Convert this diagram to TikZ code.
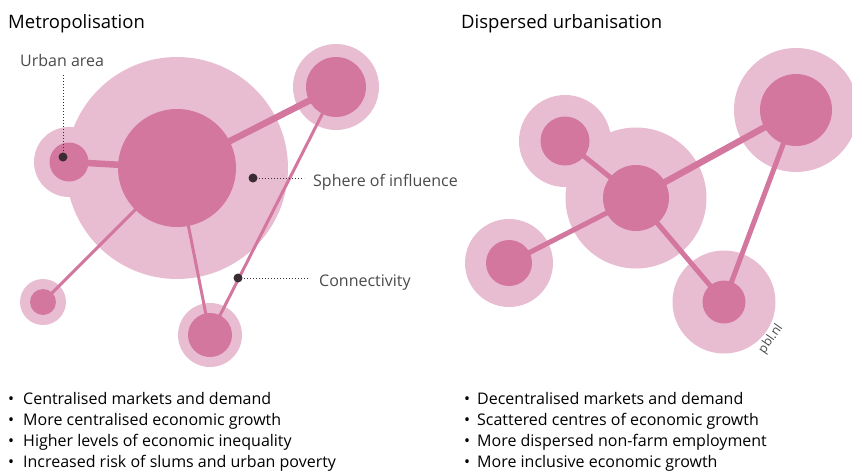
\documentclass[tikz,border=0pt]{standalone}
\usepackage{fontspec}
\setmainfont{Open Sans}
\definecolor{lightp}{HTML}{E9BDD1}
\definecolor{darkp}{HTML}{D3779E}
\definecolor{dotc}{HTML}{3B2B33}
\definecolor{labc}{HTML}{4A4A4A}
\begin{document}
\begin{tikzpicture}[x=1pt,y=-1pt,
  lightc/.style={circle,fill=lightp,inner sep=0pt,draw=none},
  darkc/.style={circle,fill=darkp,inner sep=0pt,draw=none},
  thick link/.style={draw=darkp,line width=6.5pt},
  thin link/.style={draw=darkp,line width=3pt},
  mid link/.style={draw=darkp,line width=5pt},
  marker/.style={circle,fill=dotc,inner sep=0pt,minimum size=9pt},
  leader/.style={draw=dotc,line width=0.9pt,dash pattern=on 1.3pt off 1.7pt},
  title/.style={anchor=base west,inner sep=0pt,font=\fontsize{18.5}{22}\selectfont,text=black},
  lab/.style={anchor=base west,inner sep=0pt,font=\fontsize{16}{19}\selectfont,text=labc},
  bul/.style={anchor=base west,inner sep=0pt,font=\fontsize{16}{19}\selectfont,text=black},
]
\useasboundingbox (0,0) rectangle (852,474);
% ---------------- Left panel ----------------
\node[title] (t1) at (8,28) {Metropolisation};
% spheres
\node[lightc,minimum size=222pt] (LbigS) at (177,168) {};
\node[lightc,minimum size=70pt] (LlS) at (69,162) {};
\node[lightc,minimum size=86pt] (LtrS) at (336,87) {};
\node[lightc,minimum size=46pt] (LblS) at (43,302) {};
\node[lightc,minimum size=64pt] (LbmS) at (210,335) {};
% urban areas
\coordinate (Lbig) at (177,168);
\coordinate (Ll) at (69,162);
\coordinate (Ltr) at (336,87);
\coordinate (Lbl) at (43,302);
\coordinate (Lbm) at (210,335);
% links
\draw[thick link] (Ll) -- (Lbig);
\draw[thick link] (Lbig) -- (Ltr);
\draw[thin link] (Lbig) -- (Lbl);
\draw[thin link] (Lbig) -- (Lbm);
\draw[thin link] (Ltr) -- (Lbm);
\node[darkc,minimum size=118pt] (LbigU) at (Lbig) {};
\node[darkc,minimum size=39pt] (LlU) at (Ll) {};
\node[darkc,minimum size=60pt] (LtrU) at (Ltr) {};
\node[darkc,minimum size=26pt] (LblU) at (Lbl) {};
\node[darkc,minimum size=44pt] (LbmU) at (Lbm) {};
% annotations
\node[lab] (ua) at (20,66) {Urban area};
\node[marker] (m1) at (63,157) {};
\coordinate (ua1) at (63,75);
\draw[leader] (ua1) -- (m1.center);
\node[lab] (soi) at (313,186) {Sphere of influence};
\node[marker] (m2) at (253,178) {};
\coordinate (soi1) at (304,178);
\draw[leader] (m2.center) -- (soi1);
\node[lab] (con) at (319,286) {Connectivity};
\node[marker] (m3) at (238,278) {};
\coordinate (con1) at (310,278);
\draw[leader] (m3.center) -- (con1);
% ---------------- Right panel ----------------
\node[title] (t2) at (461,28) {Dispersed urbanisation};
\node[lightc,minimum size=141pt] (RcS) at (636,198) {};
\node[lightc,minimum size=92pt] (RtlS) at (565,141) {};
\node[lightc,minimum size=124pt] (RtrS) at (796,110) {};
\node[lightc,minimum size=88pt] (RblS) at (509,263) {};
\node[lightc,minimum size=103pt] (RbrS) at (724,302) {};
\coordinate (Rc) at (636,198);
\coordinate (Rtl) at (565,141);
\coordinate (Rtr) at (796,110);
\coordinate (Rbl) at (509,263);
\coordinate (Rbr) at (724,302);
\draw[mid link] (Rc) -- (Rtl);
\draw[thick link] (Rc) -- (Rtr);
\draw[mid link] (Rc) -- (Rbl);
\draw[mid link] (Rc) -- (Rbr);
\draw[mid link] (Rtr) -- (Rbr);
\node[darkc,minimum size=66pt] (RcU) at (Rc) {};
\node[darkc,minimum size=49pt] (RtlU) at (Rtl) {};
\node[darkc,minimum size=72pt] (RtrU) at (Rtr) {};
\node[darkc,minimum size=46pt] (RblU) at (Rbl) {};
\node[darkc,minimum size=43pt] (RbrU) at (Rbr) {};
\node[rotate=55,text=labc,font=\fontsize{12.5}{14}\selectfont,inner sep=0pt] (pbl) at (771,339) {pbl.nl};
% ---------------- Bullets ----------------
\foreach \i/\t in {1/Centralised markets and demand,2/More centralised economic growth,3/Higher levels of economic inequality,4/Increased risk of slums and urban poverty}{
  \node[bul] (lb\i) at (8,383+21*\i) {\textbullet};
  \node[bul] (lt\i) at (23,383+21*\i) {\t};
}
\foreach \i/\t in {1/Decentralised markets and demand,2/Scattered centres of economic growth,3/More dispersed non-farm employment,4/More inclusive economic growth}{
  \node[bul] (rb\i) at (464,383+21*\i) {\textbullet};
  \node[bul] (rt\i) at (477,383+21*\i) {\t};
}
\end{tikzpicture}
\end{document}
